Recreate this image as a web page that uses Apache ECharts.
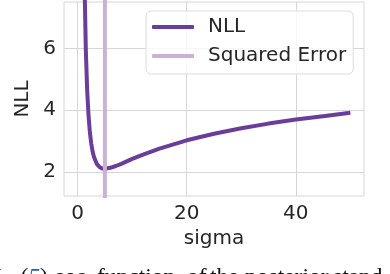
<!DOCTYPE html>
<html><head><meta charset="utf-8">
<script src="https://cdn.jsdelivr.net/npm/echarts@6/dist/echarts.min.js"></script>
<style>html,body{margin:0;padding:0;background:#fff}#c{width:390px;height:274px}</style>
</head><body><div id="c"></div>
<script>
var sigma = [1, 1.25, 1.5, 1.75, 2, 2.25, 2.5, 2.75, 3, 3.5, 4, 4.5, 5, 6, 7, 8, 10, 12, 15, 20, 25, 30, 35, 40, 45, 50];
var nll = [12.5, 8.22, 5.96, 4.64, 3.82, 3.28, 2.92, 2.66, 2.49, 2.27, 2.17, 2.12, 2.11, 2.14, 2.20, 2.27, 2.43, 2.57, 2.76, 3.03, 3.24, 3.42, 3.57, 3.70, 3.81, 3.92];
var squaredErrorSigma = 5;
var xTicks = [0, 20, 40];
var yTicks = [2, 4, 6];
var seriesNames = ['NLL', 'Squared Error'];
var captionWords = ['L', '{a|(}{b|5}{a|)}', 'as', 'a', 'function', 'of', 'the', 'posterior', 'stand'];

var font = 'DejaVu Sans';
var txt = '#262626';
var gridC = '#d6d6d6';
var chart = echarts.init(document.getElementById('c'), null, {renderer: 'canvas'});
var nllData = sigma.map(function (s, i) { return [s, nll[i]]; });

var capX = [-6, 20.5, 55, 77, 97, 187, 210, 245, 333];
var capFont = '23.5px "Liberation Serif"';
var captionEls = captionWords.map(function (w, i) {
  return {type: 'text', z: 10, style: {x: capX[i], y: 277.5, verticalAlign: 'middle', text: w, fill: '#111', font: capFont,
    rich: {a: {fill: '#111', font: capFont}, b: {fill: '#1f5fbf', font: 'italic 23.5px "Liberation Serif"'}}}};
});

chart.setOption({
  animation: false,
  backgroundColor: '#fff',
  grid: {left: 64, right: 26, top: 2, bottom: 78, show: true, borderColor: gridC, borderWidth: 1, containLabel: false},
  xAxis: {
    type: 'value', min: -2.5, max: 52.5,
    axisLine: {show: false}, axisTick: {show: false, customValues: xTicks},
    axisLabel: {customValues: xTicks, color: txt, fontFamily: font, fontSize: 20, margin: 8},
    splitLine: {show: true, lineStyle: {color: gridC, width: 1}},
    name: 'sigma', nameLocation: 'middle', nameGap: 28,
    nameTextStyle: {color: txt, fontFamily: font, fontSize: 20}
  },
  yAxis: {
    type: 'value', min: 1.23, max: 7.5,
    axisLine: {show: false}, axisTick: {show: false, customValues: yTicks},
    axisLabel: {customValues: yTicks, color: txt, fontFamily: font, fontSize: 20, margin: 8},
    splitLine: {show: true, lineStyle: {color: gridC, width: 1}},
    name: 'NLL', nameLocation: 'middle', nameGap: 24, nameRotate: 90,
    nameTextStyle: {color: txt, fontFamily: font, fontSize: 20}
  },
  legend: {
    orient: 'vertical', left: 146, top: 11,
    data: [{name: seriesNames[0], icon: 'roundRect'}, {name: seriesNames[1], icon: 'roundRect'}],
    itemWidth: 42, itemHeight: 4, itemGap: 9,
    padding: [6, 7, 8, 6],
    backgroundColor: 'rgba(255,255,255,0.8)', borderColor: '#dcdcdc', borderWidth: 1, borderRadius: 5,
    textStyle: {color: txt, fontFamily: font, fontSize: 20, lineHeight: 20, padding: [0, 0, 0, 9]}
  },
  series: [
    {name: seriesNames[0], type: 'line', data: nllData, showSymbol: false, symbol: 'none',
     lineStyle: {color: '#6a3d9a', width: 4}, itemStyle: {color: '#6a3d9a'}, z: 3},
    {name: seriesNames[1], type: 'line', data: [[squaredErrorSigma, 0], [squaredErrorSigma, 10]], showSymbol: false, symbol: 'none',
     lineStyle: {color: '#cab2d6', width: 4}, itemStyle: {color: '#cab2d6'}, z: 4}
  ],
  graphic: captionEls
});
</script></body></html>
